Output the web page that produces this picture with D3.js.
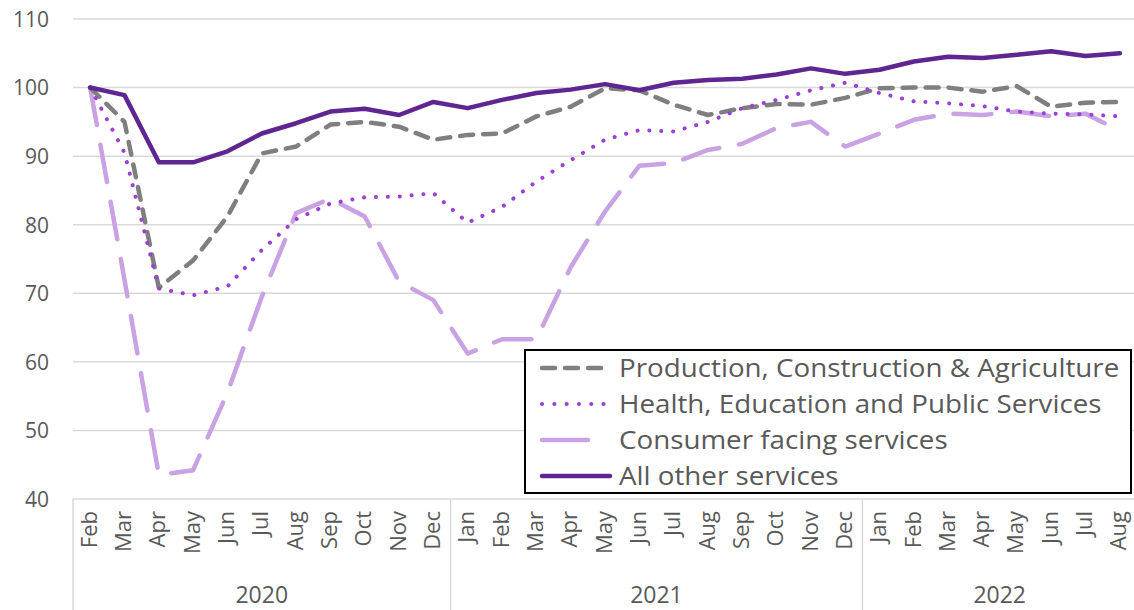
<!DOCTYPE html>
<html>
<head>
<meta charset="utf-8">
<script src="https://cdn.jsdelivr.net/npm/d3@7"></script>
<style>
  html, body { margin: 0; padding: 0; background: #fff; overflow: hidden; }
  svg { display: block; font-family: "Open Sans", "Noto Sans", sans-serif; }
</style>
</head>
<body>
<svg id="chart" width="1134" height="610"></svg>
<script>
// ---- data ----
const months = ["Feb","Mar","Apr","May","Jun","Jul","Aug","Sep","Oct","Nov","Dec",
                "Jan","Feb","Mar","Apr","May","Jun","Jul","Aug","Sep","Oct","Nov","Dec",
                "Jan","Feb","Mar","Apr","May","Jun","Jul","Aug"];
const years = ["2020","2021","2022"];
const yearSpans = [11, 12, 8];
const yTicks = [40, 50, 60, 70, 80, 90, 100, 110];

const seriesNames = ["Production, Construction & Agriculture",
                     "Health, Education and Public Services",
                     "Consumer facing services",
                     "All other services"];

const production = [100, 95.0, 70.8, 74.8, 81.2, 90.4, 91.4, 94.6, 95.0, 94.3, 92.4,
                    93.1, 93.3, 95.8, 97.2, 99.9, 99.6, 97.5, 96.0, 97.0, 97.6, 97.5, 98.5,
                    99.9, 100.0, 100.0, 99.4, 100.2, 97.2, 97.8, 97.9];
const health = [100, 90.5, 70.7, 69.7, 71.0, 76.3, 80.8, 83.1, 84.0, 84.1, 84.6,
                80.3, 82.6, 86.3, 89.4, 92.4, 93.8, 93.6, 95.0, 97.0, 98.2, 99.6, 100.7,
                99.2, 98.0, 97.7, 97.3, 96.5, 96.2, 96.1, 95.8];
const consumer = [100, 72.0, 43.5, 44.2, 55.5, 69.5, 81.7, 83.8, 81.2, 71.7, 69.0,
                  61.2, 63.3, 63.3, 73.8, 81.9, 88.6, 89.0, 90.9, 91.8, 94.1, 95.0, 91.4,
                  93.3, 95.3, 96.2, 96.0, 96.5, 95.8, 96.2, 93.7];
const allOther = [100, 98.9, 89.1, 89.1, 90.7, 93.3, 94.8, 96.5, 96.9, 96.0, 97.9,
                  97.0, 98.2, 99.2, 99.7, 100.5, 99.6, 100.7, 101.1, 101.3, 101.9, 102.8, 102.0,
                  102.6, 103.8, 104.5, 104.3, 104.8, 105.3, 104.6, 105.0];

// ---- layout ----
const svg = d3.select("#chart");
const W = 1134, H = 610;
const plotL = 73, plotR = 1137, plotT = 19, plotB = 499;
const textColor = "#595959";
const gridColor = "#d9d9d9";

const idx = d3.range(months.length);
const x = d3.scaleBand().domain(idx).range([plotL, plotR]).paddingInner(0).paddingOuter(0);
const y = d3.scaleLinear().domain([40, 110]).range([plotB, plotT]);
const cx = i => x(i) + x.bandwidth() / 2;

// gridlines
svg.append("g").selectAll("line").data(yTicks).join("line")
  .attr("x1", plotL).attr("x2", Math.min(plotR, W))
  .attr("y1", d => y(d)).attr("y2", d => y(d))
  .attr("stroke", gridColor).attr("stroke-width", 1.5);

// y axis labels
const yAxis = d3.axisLeft(y).tickValues(yTicks).tickSize(0).tickPadding(0);
const gy = svg.append("g").attr("transform", `translate(${plotL - 24},0)`).call(yAxis);
gy.select(".domain").remove();
gy.selectAll("text").attr("fill", textColor).style("font-size", "21px")
  .style("font-family", "'Open Sans', sans-serif").attr("dy", "0.35em");

// x axis month labels
const xAxis = d3.axisBottom(x).tickFormat(i => months[i]).tickSize(0);
const gx = svg.append("g").attr("transform", `translate(0,${plotB})`).call(xAxis);
gx.select(".domain").remove();
gx.selectAll("text")
  .attr("fill", textColor).style("font-size", "22px")
  .style("font-family", "'Open Sans', sans-serif")
  .attr("text-anchor", "end")
  .attr("transform", "rotate(-90)")
  .attr("x", -12).attr("y", 0).attr("dy", "0.3em");

// year separators and labels
let start = 0;
const bounds = [0];
yearSpans.forEach(s => { start += s; bounds.push(start); });
svg.append("g").selectAll("line").data(bounds.slice(0, 3)).join("line")
  .attr("x1", d => x(d)).attr("x2", d => x(d))
  .attr("y1", plotB).attr("y2", H)
  .attr("stroke", gridColor).attr("stroke-width", 1.5);
svg.append("g").selectAll("text").data(years).join("text")
  .attr("x", (d, i) => {
    const a = x(bounds[i]);
    const b = bounds[i + 1] < months.length ? x(bounds[i + 1]) : plotR;
    return (a + b) / 2;
  })
  .attr("y", 602.5)
  .attr("text-anchor", "middle")
  .attr("fill", textColor).style("font-size", "23px")
  .text(d => d);

// series
const styles = [
  {data: production, color: "#7f7f7f", width: 4.5, dash: "13 10"},
  {data: health, color: "#9b40d4", width: 4, dash: "0.1 11.8"},
  {data: consumer, color: "#c9a2e4", width: 4.5, dash: "38 20"},
  {data: allOther, color: "#5f2590", width: 4.5, dash: null}
];
const line = d3.line().x((d, i) => cx(i)).y(d => y(d)).curve(d3.curveLinear);
const gLines = svg.append("g");
[2, 0, 1, 3].forEach(k => {
  const s = styles[k];
  gLines.append("path")
    .datum(s.data)
    .attr("d", line)
    .attr("fill", "none")
    .attr("stroke", s.color)
    .attr("stroke-width", s.width)
    .attr("stroke-linejoin", "round")
    .attr("stroke-linecap", "round")
    .attr("stroke-dasharray", s.dash);
});

// legend
const lg = svg.append("g");
lg.append("rect").attr("x", 525).attr("y", 350).attr("width", 606).attr("height", 143)
  .attr("fill", "#fff").attr("stroke", "#000").attr("stroke-width", 2);
const legendSamples = [
  {x2: 607, dash: "13 10"},
  {x2: 607, dash: "0.1 12.2"},
  {x2: 588, dash: null},
  {x2: 610, dash: null}
];
const rowY = [368, 404, 440, 476];
seriesNames.forEach((name, k) => {
  const s = styles[k];
  lg.append("line")
    .attr("x1", 542).attr("x2", legendSamples[k].x2)
    .attr("y1", rowY[k]).attr("y2", rowY[k])
    .attr("stroke", s.color).attr("stroke-width", s.width)
    .attr("stroke-linecap", "round")
    .attr("stroke-dasharray", legendSamples[k].dash);
  lg.append("text")
    .attr("transform", `translate(619,${rowY[k]}) scale(1.11,1)`)
    .attr("dy", "0.35em")
    .attr("fill", textColor).style("font-size", "25px")
    .text(name);
});
</script>
</body>
</html>
